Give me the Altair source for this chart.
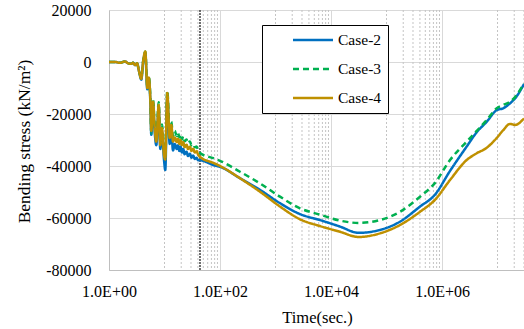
import altair as alt
import pandas as pd

# ---- data ----
cases = ["Case-2", "Case-3", "Case-4"]

t_early = [1.00, 1.28, 1.58, 1.94, 2.20, 2.49, 2.71, 2.94, 3.20, 3.47, 3.82, 4.10, 4.51,
           4.90, 5.19, 5.55, 5.78, 6.21, 6.66, 7.11, 7.86, 8.40, 9.01, 9.80, 10.33, 11.22,
           12.40, 13.26, 14.23,
           15.3, 16.6, 17.5, 18.5, 19.5, 20.5, 21.8, 23.0, 25.0, 26.5, 28.8, 30.5, 33.0,
           35.0, 38.0, 40.0]
case2_early = [0, 0, -300, 200, -500, -700, -300, -1200, -500, -3500, -6800, -400, 3500,
               -10500, -6500, -15000, -28000, -16000, -27000, -32000, -17500, -33500, -27000,
               -37700, -41500, -12500, -31500, -27000, -34000,
               -31500, -33500, -32000, -34200, -32500, -34800, -33500, -35500, -34500, -36200,
               -35300, -36800, -36000, -37300, -36800, -37800]
case3_early = [0, 0, -300, 200, -500, -700, -300, -1200, -500, -3500, -6000, 0, 4000,
               -9500, -5500, -13500, -27500, -14500, -24500, -29500, -15500, -30500, -24000,
               -34500, -36000, -11000, -27000, -23000, -28500,
               -26500, -28500, -27200, -29000, -27800, -29800, -28500, -30500, -29800, -31300,
               -30600, -32000, -31500, -32800, -32500, -33800]
case4_early = [0, 0, -300, 200, -500, -700, -300, -1200, -500, -3500, -6500, -200, 4000,
               -10000, -6000, -14000, -26500, -15300, -25400, -30600, -16500, -32000, -25400,
               -35800, -37500, -11900, -29200, -24200, -30600,
               -29000, -30800, -29500, -31500, -30000, -32000, -30800, -32800, -31800, -33500,
               -32600, -34200, -33400, -34800, -34300, -35500]

t_late = [43.6, 75.7, 100, 229, 526, 1205, 2762, 6340, 14520, 31260, 76400, 175000, 401600,
          748000, 1393000, 2786000, 4220000, 6380000, 9680000, 12700000, 16800000, 20700000,
          30000000]
case2_late = [-37800, -39600, -40300, -44700, -49200, -54300, -58500, -60800, -63300, -65700,
              -64600, -61400, -55600, -51000, -41900, -32500, -27000, -23000, -18500, -17800,
              -15900, -14000, -8500]
case3_late = [-35000, -37000, -38000, -42200, -46700, -51800, -56300, -58700, -61000, -61900,
              -60800, -57600, -51800, -46500, -37700, -30600, -26500, -22300, -17800, -16500,
              -15300, -13500, -8200]
case4_late = [-36500, -38800, -40000, -44700, -49900, -55600, -60500, -63100, -65300, -67300,
              -65900, -62700, -57600, -53000, -45400, -37700, -35100, -33000, -29200, -26200,
              -23800, -24200, -21700]

minor_grid = [10, 20, 30, 40, 50, 60, 70, 80, 90,
              1000, 2000, 3000, 4000, 5000, 6000, 7000, 8000, 9000,
              100000, 200000, 300000, 400000, 500000, 600000, 700000, 800000, 900000,
              10000000, 20000000, 30000000]
marker_t = [43.6]

x_ticks = [1, 100, 10000, 1000000]
y_ticks = [-80000, -60000, -40000, -20000, 0, 20000]

# ---- tables ----
rows = []
t_all = t_early + t_late
for name, vals in zip(cases, [case2_early + case2_late,
                              case3_early + case3_late,
                              case4_early + case4_late]):
    for t, v in zip(t_all, vals):
        rows.append({"t": t, "v": v, "case": name})
df = pd.DataFrame(rows)
df_minor = pd.DataFrame({"t": minor_grid})
df_marker = pd.DataFrame({"t": marker_t})

FONT = "Liberation Serif"
xscale = alt.Scale(type="log", domain=[1, 30000000], nice=False)
yscale = alt.Scale(domain=[-80000, 20000], nice=False)

x_axis = alt.Axis(values=x_ticks, title="Time(sec.)",
                  labelExpr="'1.0E+' + (round(log(datum.value)/LN10) < 10 ? '0' : '') + round(log(datum.value)/LN10)",
                  grid=True, gridColor="#d9d9d9", ticks=False, labelFlush=False,
                  domainColor="#bfbfbf", labelPadding=13,
                  labelFont=FONT, labelFontSize=16, labelColor="black",
                  titleFont=FONT, titleFontSize=16.5, titleFontWeight="normal",
                  titleColor="black", titleX=208, titleY=47,
                  titleBaseline="middle", titleAlign="center")
y_axis = alt.Axis(values=y_ticks, title="Bending stress (kN/m²)",
                  labelExpr="'' + datum.value",
                  grid=True, gridColor="#d9d9d9", ticks=False,
                  domainColor="#bfbfbf", labelPadding=18,
                  labelFont=FONT, labelFontSize=16, labelColor="black",
                  titleFont=FONT, titleFontSize=17.5, titleFontWeight="normal",
                  titleColor="black", titleX=-85, titleY=131, titleAngle=-90,
                  titleBaseline="middle", titleAlign="center")

minor = alt.Chart(df_minor).mark_rule(
    color="#c4c4c4", strokeWidth=1, strokeDash=[2, 2]
).encode(x=alt.X("t:Q", scale=xscale, axis=x_axis))

marker = alt.Chart(df_marker).mark_rule(
    color="#404040", strokeWidth=1.5, strokeDash=[2, 1]
).encode(x=alt.X("t:Q", scale=xscale, axis=x_axis))

lines = alt.Chart(df).mark_line(strokeWidth=2.5, clip=True, interpolate="monotone").encode(
    x=alt.X("t:Q", scale=xscale, axis=x_axis),
    y=alt.Y("v:Q", scale=yscale, axis=y_axis),
    color=alt.Color("case:N", title=None,
                    scale=alt.Scale(domain=cases, range=["#0070C0", "#00B050", "#BF9000"]),
                    legend=alt.Legend(orient="none", legendX=153, legendY=15,
                                      strokeColor="black", fillColor="white", padding=6,
                                      symbolType="M-2.667,0H2.667", symbolSize=225,
                                      symbolStrokeWidth=2.5, symbolOffset=36,
                                      symbolFillColor="transparent",
                                      labelOffset=16, rowPadding=11,
                                      labelFont=FONT, labelFontSize=15.5, labelColor="black",
                                      labelExpr="datum.label + '\u00a0\u00a0\u00a0\u00a0\u00a0'")),
    strokeDash=alt.StrokeDash("case:N", title=None,
                              scale=alt.Scale(domain=cases, range=[[1, 0], [6, 4], [1, 0]])),
    order=alt.Order("t:Q"),
)

chart = alt.layer(minor, marker, lines).properties(
    width=415, height=260,
    autosize=alt.AutoSizeParams(type="none"),
    padding={"left": 109, "top": 10, "right": 0, "bottom": 59},
).configure_view(stroke=None).configure(background="white")

chart.save("out.html", embed_options={"renderer": "svg", "actions": False})
